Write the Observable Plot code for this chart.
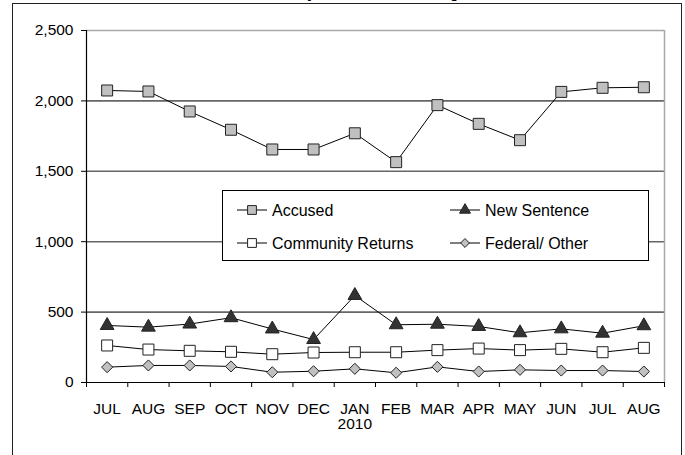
<!DOCTYPE html>
<html><head><meta charset="utf-8">
<script src="https://cdn.jsdelivr.net/npm/d3@7"></script>
<script src="https://cdn.jsdelivr.net/npm/@observablehq/plot@0.6"></script>
<style>
body{margin:0;background:#fff;font-family:Arial,"Liberation Sans",sans-serif;}
#wrap{position:relative;width:685px;height:455px;overflow:hidden;background:#fff;}
#border{position:absolute;left:12px;top:3px;width:670px;height:500px;border:1.5px solid #222;box-sizing:border-box;}
#title{position:absolute;left:12px;width:670px;top:-14px;text-align:center;font-weight:bold;font-size:14px;line-height:15px;color:#000;}
#chart{position:absolute;left:0;top:0;}
#legend{position:absolute;left:222px;top:190px;width:427px;height:71px;border:1px solid #000;box-sizing:border-box;background:#fff;}
#legend svg{position:absolute;left:-1px;top:-1px;}
</style></head>
<body>
<div id="wrap">
  <div id="border"></div>
  <div id="title">Jail Admissions by Month and Admitting Status</div>
  <div id="chart"></div>
  <div id="legend"></div>
</div>
<script>
const months = ["JUL","AUG","SEP","OCT","NOV","DEC","JAN","FEB","MAR","APR","MAY","JUN","JUL","AUG"];
const years = ["","","","","","","2010","","","","","","",""];
const accused = [2074,2067,1925,1795,1655,1655,1770,1565,1970,1837,1721,2064,2093,2097];
const newSentence = [405,393,415,460,380,305,618,410,414,398,353,381,350,403];
const communityReturns = [263,234,225,218,201,213,215,215,230,241,230,239,215,246];
const federalOther = [109,121,121,114,73,80,97,69,111,78,90,85,85,78];
const yTicks = [0,500,1000,1500,2000,2500];
const seriesNames = ["Accused","New Sentence","Community Returns","Federal/ Other"];

const styles = [
  {symbol:"square", fill:"#c0c0c0", r:6.2},
  {symbol:"triangle", fill:"#333333", r:5.1},
  {symbol:"square", fill:"#ffffff", r:6.2},
  {symbol:"diamond2", fill:"#c0c0c0", r:5.0}
];
const seriesValues = [accused, newSentence, communityReturns, federalOther];
const series = seriesNames.map((name, k) => ({
  name, ...styles[k],
  rows: seriesValues[k].map((v, i) => ({i, v, name}))
}));

const font = "Arial, 'Liberation Sans', sans-serif";
const chart = Plot.plot({
  width: 685, height: 455,
  marginLeft: 86, marginRight: 21, marginTop: 30, marginBottom: 73,
  style: {fontFamily: font, fontSize: "15.5px", color: "#000", background: "transparent", overflow: "visible"},
  x: {type: "linear", domain: [-0.5, months.length - 0.5]},
  y: {domain: [0, 2500]},
  marks: [
    Plot.ruleY(yTicks.filter(d => d > 0 && d < 2500), {stroke: "#666", strokeWidth: 1.6}),
    Plot.ruleY([2500], {stroke: "#a8a8a8", strokeWidth: 1.5}),
    Plot.ruleX([months.length - 0.5], {stroke: "#a8a8a8", strokeWidth: 1.5}),
    Plot.axisY({ticks: yTicks, tickFormat: d3.format(","), tickSize: 5, tickPadding: 8, label: null, stroke: "#000"}),
    Plot.axisX({ticks: d3.range(months.length + 1).map(d => d - 0.5), tickFormat: () => "", tickSize: 5, label: null, stroke: "#000"}),
    Plot.axisX({ticks: d3.range(months.length), tickFormat: i => years[i] ? months[i] + "\n" + years[i] : months[i], tickSize: 0, tickPadding: 20, lineHeight: 1.0, label: null}),
    Plot.ruleX([-0.5], {stroke: "#000", strokeWidth: 1.2}),
    Plot.ruleY([0], {stroke: "#000", strokeWidth: 1.2}),
    ...series.flatMap(s => [
      Plot.line(s.rows, {x: "i", y: "v", stroke: "#000", strokeWidth: 1}),
      Plot.dot(s.rows, {x: "i", y: "v", symbol: s.symbol, r: s.r, fill: s.fill, stroke: "#222", strokeWidth: 1, fillOpacity: 1})
    ])
  ]
});
document.getElementById("chart").appendChild(chart);

// Legend
const lg = d3.select("#legend").append("svg").attr("width", 427).attr("height", 71)
  .style("font-family", font).style("font-size", "16px");
const pos = [
  {mx: 30, tx: 50, y: 20},
  {mx: 243, tx: 263, y: 20},
  {mx: 30, tx: 50, y: 53},
  {mx: 243, tx: 263, y: 53}
];
const symMap = {square: d3.symbolSquare, triangle: d3.symbolTriangle, diamond2: d3.symbolDiamond2};
series.forEach((s, k) => {
  const p = pos[k];
  const g = lg.append("g");
  g.append("line").attr("x1", p.mx - 15).attr("x2", p.mx + 15).attr("y1", p.y).attr("y2", p.y).attr("stroke", "#000");
  const lr = s.r * 0.8;
  g.append("path").attr("transform", `translate(${p.mx},${p.y})`)
    .attr("d", d3.symbol(symMap[s.symbol], lr * lr * Math.PI)())
    .attr("fill", s.fill).attr("stroke", "#222");
  g.append("text").attr("x", p.tx).attr("y", p.y).attr("dy", "0.35em").text(s.name);
});
</script>
</body></html>
